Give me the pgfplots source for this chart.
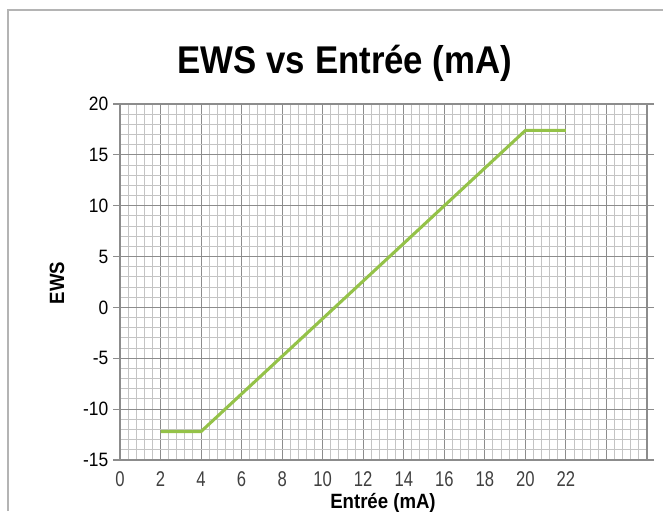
\documentclass[border=0pt]{standalone}
\usepackage{pgfplots}
\pgfplotsset{compat=1.18}
\usepackage{fontspec}
\setmainfont{Liberation Sans}
\newfontfamily\cond[FakeStretch=0.9]{Liberation Sans}
\newfontfamily\xfont[FakeStretch=0.78]{Liberation Sans}
\definecolor{linegreen}{RGB}{148,194,72}
\definecolor{majgrid}{RGB}{140,140,140}
\definecolor{mingrid}{RGB}{196,196,196}
\definecolor{framegray}{RGB}{180,180,180}
\begin{document}
\begin{tikzpicture}
\useasboundingbox (0,0) rectangle (497.25pt,383.25pt);
% outer chart frame (left and top edges visible)
\draw[framegray, line width=0.8pt] (6pt,0pt) -- (6pt,375.75pt) -- (497.25pt,375.75pt);
\begin{axis}[
  at={(90pt,38.25pt)}, anchor=south west,
  scale only axis, width=395.25pt, height=267pt,
  xmin=0, xmax=26, ymin=-15, ymax=20,
  xtick={0,2,...,26},
  xticklabels={0,2,4,6,8,10,12,14,16,18,20,22,{},{}},
  ytick={-15,-10,...,20},
  yticklabels={-15,-10,-5,0,5,10,15,20},
  minor x tick num=4, minor y tick num=4,
  grid=both,
  major grid style={majgrid, line width=0.75pt},
  minor grid style={mingrid, line width=0.75pt},
  axis line style={majgrid, line width=0.8pt},
  tick align=outside,
  xtick style={draw=none},
  ytick style={majgrid, line width=0.8pt},
  major tick length=5.25pt,
  minor tick length=0pt,
  xticklabel style={font=\xfont\fontsize{16}{18}\selectfont, text=black!75, yshift=0pt},
  yticklabel style={font=\cond\fontsize{14.5}{16}\selectfont, text=black},
]
\addplot[color=linegreen, line width=2.3pt, line join=round] coordinates {
  (2,-12.2) (4,-12.2) (20,17.4) (22,17.4)
};
\end{axis}
\node[font=\cond\bfseries\fontsize{29}{32}\selectfont, anchor=base] at (258.75pt,328pt) {EWS vs Entrée (mA)};
\node[font=\cond\bfseries\fontsize{15.5}{17}\selectfont, rotate=90] at (42.75pt,171pt) {EWS};
\node[font=\cond\bfseries\fontsize{15.5}{17}\selectfont, anchor=base] at (287.25pt,2pt) {Entrée (mA)};
\end{tikzpicture}
\end{document}
